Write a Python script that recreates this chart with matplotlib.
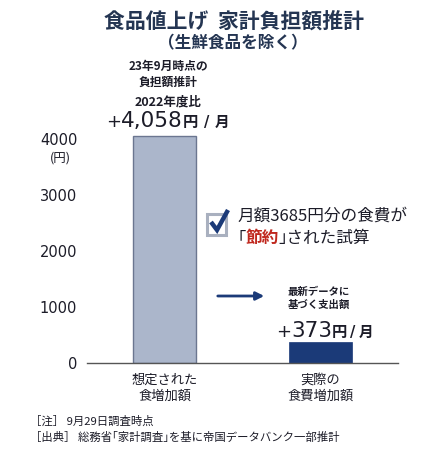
import matplotlib
matplotlib.use("Agg")
import matplotlib.pyplot as plt
from matplotlib.patches import Rectangle, FancyArrowPatch
from matplotlib.lines import Line2D

plt.rcParams['font.family'] = ['DejaVu Sans', 'Noto Sans CJK JP']
CJK = ['Noto Sans CJK JP', 'DejaVu Sans']

categories = ["想定された\n食増加額", "実際の\n食費増加額"]
values = [4058, 373]
value_labels = ["4,058", "373"]
yticks = [0, 1000, 2000, 3000, 4000]
ytick_labels = ["0", "1000", "2000", "3000", "4000"]

W, H = 433, 450
fig = plt.figure(figsize=(W / 100, H / 100), dpi=100)
renderer = fig.canvas.get_renderer()

def fx(px):
    return px / W

def fy(py):
    return 1 - py / H

TXT = "#1c1c28"
NAVY = "#243552"

ax = fig.add_axes([fx(87), fy(363), fx(398) - fx(87), fy(127.8) - fy(363)])
ax.set_xlim(-0.5, 1.5)
ax.set_ylim(0, 4200)
ax.bar([0], [values[0]], width=0.405, color="#abb6cb", edgecolor="#6b7690", linewidth=1.0)
ax.bar([1], [values[1]], width=0.405, color="#1b3a78", edgecolor="#1b3a78", linewidth=0.5)
for s in ["top", "right", "left"]:
    ax.spines[s].set_visible(False)
ax.spines["bottom"].set_color("#555555")
ax.spines["bottom"].set_linewidth(1.0)
ax.set_yticks(yticks)
ax.set_yticklabels(ytick_labels, fontsize=10.5, color=TXT)
ax.tick_params(axis="y", length=0, pad=7)
ax.set_xticks([0, 1])
ax.set_xticklabels(categories, fontsize=9.5, color=TXT, linespacing=1.25, family=CJK)
ax.tick_params(axis="x", length=0, pad=8)

# (円) unit
fig.text(fx(60), fy(158), "(円)", fontsize=9, color=TXT, ha="center", va="center", family=CJK)

# titles
fig.text(fx(234), fy(21), "食品値上げ  家計負担額推計", fontsize=15, fontweight="bold",
         color=NAVY, ha="center", va="center", family=CJK)
fig.text(fx(233), fy(43), "（生鮮食品を除く）", fontsize=12, fontweight="bold",
         color=NAVY, ha="center", va="center", family=CJK)

# annotation above bar 1
fig.text(fx(168), fy(74), "23年9月時点の\n負担額推計", fontsize=8.5, fontweight="bold",
         color=TXT, ha="center", va="center", linespacing=1.3, family=CJK)
fig.text(fx(168), fy(102), "2022年度比", fontsize=9, fontweight="bold",
         color=TXT, ha="center", va="center", family=CJK)

def run_text(x0, ybase, parts):
    x = x0
    for s, size, weight, color, gap, fam in parts:
        t = fig.text(fx(x + gap), fy(ybase), s, fontsize=size, fontweight=weight,
                     color=color, ha="left", va="baseline", family=fam)
        bb = t.get_window_extent(renderer)
        x = bb.x1

def value_line(x0, ybase, value_text, g1, g2):
    run_text(x0, ybase, [
        ("+", 13, "normal", TXT, 0, ['DejaVu Sans']),
        (value_text, 15.5, "normal", TXT, 0, ['DejaVu Sans']),
        ("円", 11, "bold", TXT, 0, CJK),
        ("/", 10.5, "bold", TXT, g1, ['DejaVu Sans']),
        ("月", 10.5, "bold", TXT, g2, CJK),
    ])

value_line(106, 127, value_labels[0], 6, 5)
value_line(276, 337, value_labels[1], 3, 3)

# checkbox
fig.patches.append(Rectangle((fx(207), fy(235)), fx(226) - fx(207), fy(214) - fy(235),
                             transform=fig.transFigure, fill=False,
                             edgecolor="#a9b0bf", linewidth=2.2))
fig.lines.append(Line2D([fx(211), fx(217), fx(228)], [fy(222), fy(230), fy(210)],
                        transform=fig.transFigure, color="#1b3a78", linewidth=3.2,
                        solid_capstyle="butt", solid_joinstyle="miter"))
fig.text(fx(237), fy(216), "月額3685円分の食費が", fontsize=12, color=TXT,
         ha="left", va="center", family=CJK)
run_text(237, 243, [
    ("｢", 12, "normal", TXT, 0, CJK),
    ("節約", 12, "bold", "#c0281e", 0, CJK),
    ("｣された試算", 12, "normal", TXT, 0, CJK),
])

# arrow
fig.patches.append(FancyArrowPatch((fx(215), fy(296)), (fx(267), fy(296)),
                                   transform=fig.transFigure, arrowstyle="-|>",
                                   mutation_scale=12, color="#1b3a78", linewidth=2))

fig.text(fx(319), fy(298), "最新データに\n基づく支出額", fontsize=7.5, fontweight="bold",
         color=TXT, ha="center", va="center", linespacing=1.4, family=CJK)

# footnotes
fig.text(fx(30), fy(421), "［注］ 9月29日調査時点", fontsize=8.2, color=TXT,
         ha="left", va="center", family=CJK)
fig.text(fx(30), fy(437), "［出典］ 総務省｢家計調査｣を基に帝国データバンク一部推計", fontsize=8.2,
         color=TXT, ha="left", va="center", family=CJK)

fig.savefig("out.png", dpi=100)
